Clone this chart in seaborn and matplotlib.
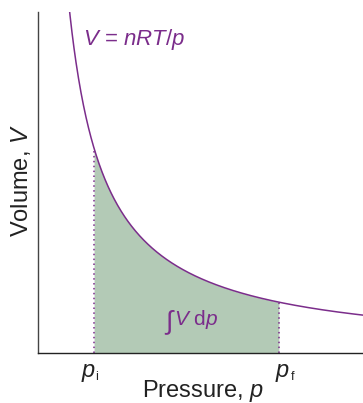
import numpy as np
import pandas as pd
import matplotlib
matplotlib.use("Agg")
import matplotlib.pyplot as plt
import seaborn as sns

# Isotherm of a perfect gas: V = nRT/p
nRT = 5.0
p_min, p_max = 0.1, 6.6
p_initial = 1.22
p_final = 4.92
v_top = 6.82

purple = "#7b2d8b"
green = "#b3cab6"
ink = "#222222"

sns.set_style("white")
plt.rcParams["font.family"] = ["Liberation Sans", "DejaVu Sans"]
plt.rcParams["mathtext.fontset"] = "custom"
plt.rcParams["mathtext.rm"] = "Liberation Sans"
plt.rcParams["mathtext.it"] = "Liberation Sans:italic"
plt.rcParams["mathtext.bf"] = "Liberation Sans:bold"

p = np.linspace(0.6, p_max, 600)
curve = pd.DataFrame({"p": p, "V": nRT / p})

fig = plt.figure(figsize=(3.63, 4.03), dpi=100)
ax = fig.add_axes([38 / 363, 50 / 403, 325 / 363, 341 / 403])

# shaded work integral between the initial and final pressures
band = curve[(curve.p >= p_initial) & (curve.p <= p_final)]
ax.fill_between(band.p, 0, band.V, color=green, lw=0, zorder=1)

sns.lineplot(data=curve, x="p", y="V", color=purple, lw=1.1, ax=ax, zorder=3)

for pv in (p_initial, p_final):
    ax.vlines(pv, 0, nRT / pv, colors=purple, linestyles=(0, (1, 2.2)), lw=1.1, zorder=2)

ax.set_xlim(p_min, p_max)
ax.set_ylim(0, v_top)
ax.set_xticks([])
ax.set_yticks([])
for side in ("top", "right"):
    ax.spines[side].set_visible(False)
ax.spines["left"].set_color("#444444")
ax.spines["bottom"].set_color(ink)
ax.spines["left"].set_linewidth(1.0)
ax.spines["bottom"].set_linewidth(1.0)

ax.set_xlabel(r"Pressure, $p$", fontsize=17, color=ink, va="baseline")
ax.xaxis.set_label_coords(0.509, -0.129)
ax.set_ylabel(r"Volume, $V$", fontsize=17, color=ink, va="baseline")
ax.yaxis.set_label_coords(-0.031, 0.507)


def pressure_mark(pv, sub, dx_p, dx_sub):
    ax.annotate("p", xy=(pv, 0), xytext=(dx_p, -24), textcoords="offset pixels",
                ha="center", va="baseline", fontsize=17, style="italic",
                color=ink, annotation_clip=False)
    ax.annotate(sub, xy=(pv, 0), xytext=(dx_sub, -27), textcoords="offset pixels",
                ha="left", va="baseline", fontsize=9, color=ink,
                annotation_clip=False)


pressure_mark(p_initial, "i", -6, 1.5)
pressure_mark(p_final, "f", 3.5, 11.5)

ax.text(1.0, 6.16, r"$V$ = $nRT$/$p$", fontsize=16, color=purple,
        ha="left", va="baseline")
ax.text(2.64, 0.5, "\u222b", fontsize=19, color=purple,
        ha="left", va="baseline")
ax.text(2.82, 0.56, "$V$ d$p$", fontsize=15, color=purple,
        ha="left", va="baseline")

fig.savefig("out.png", dpi=100)
